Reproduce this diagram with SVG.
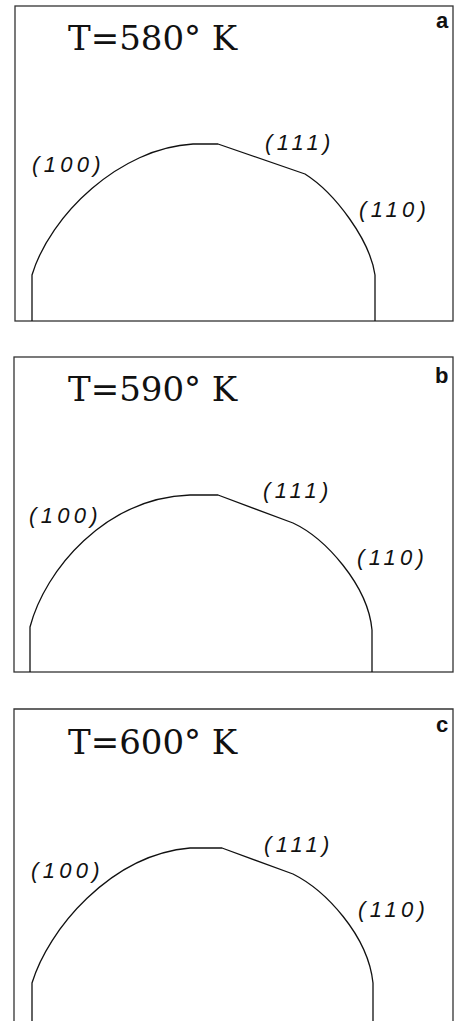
<svg xmlns="http://www.w3.org/2000/svg" width="455" height="1021" viewBox="0 0 455 1021">
<style>
.frame{fill:none;stroke:#333;stroke-width:1.3}
.curve{fill:none;stroke:#111;stroke-width:1.3;stroke-linejoin:round}
.title{font-family:"DejaVu Serif","Liberation Serif",serif;font-size:34px;fill:#111}
.tag{font-family:"Liberation Sans",Arial,sans-serif;font-weight:bold;font-size:22px;fill:#111}
.face{font-family:"Liberation Sans",Arial,sans-serif;font-style:italic;font-size:22px;letter-spacing:4.3px;fill:#111}
</style>
<rect width="455" height="1021" fill="#fff"/>
<g id="panel-a">
<rect class="frame" x="15" y="6" width="438" height="315"/>
<text class="title" x="68" y="50">T=580° K</text>
<text class="tag" x="436" y="28">a</text>
<path class="curve" d="M32,321 L32,275 C50,215 120,148 193,144 L218,144 L305,174 C335,193 370,240 375,275 L375,321"/>
<text class="face" x="32" y="172">(100)</text>
<text class="face" x="265" y="150">(111)</text>
<text class="face" x="359" y="217">(110)</text>
</g>
<g id="panel-b">
<rect class="frame" x="14" y="357" width="439" height="315"/>
<text class="title" x="68" y="401">T=590° K</text>
<text class="tag" x="435" y="383">b</text>
<path class="curve" d="M30,672 L30,627 C45,570 105,498 190,495 L218,495 L293,523 C325,538 368,585 372,630 L372,672"/>
<text class="face" x="29" y="523">(100)</text>
<text class="face" x="263" y="498">(111)</text>
<text class="face" x="357" y="565">(110)</text>
</g>
<g id="panel-c">
<path class="frame" d="M14,1030 L14,709 L453,709 L453,1030"/>
<text class="title" x="68" y="754">T=600° K</text>
<text class="tag" x="436" y="732">c</text>
<path class="curve" d="M32,1030 L32,983 C48,930 110,855 190,848 L222,848 L293,874 C325,890 368,935 373,983 L373,1030"/>
<text class="face" x="31" y="878">(100)</text>
<text class="face" x="264" y="852">(111)</text>
<text class="face" x="358" y="917">(110)</text>
</g>
<g id="connectors"/>
</svg>
